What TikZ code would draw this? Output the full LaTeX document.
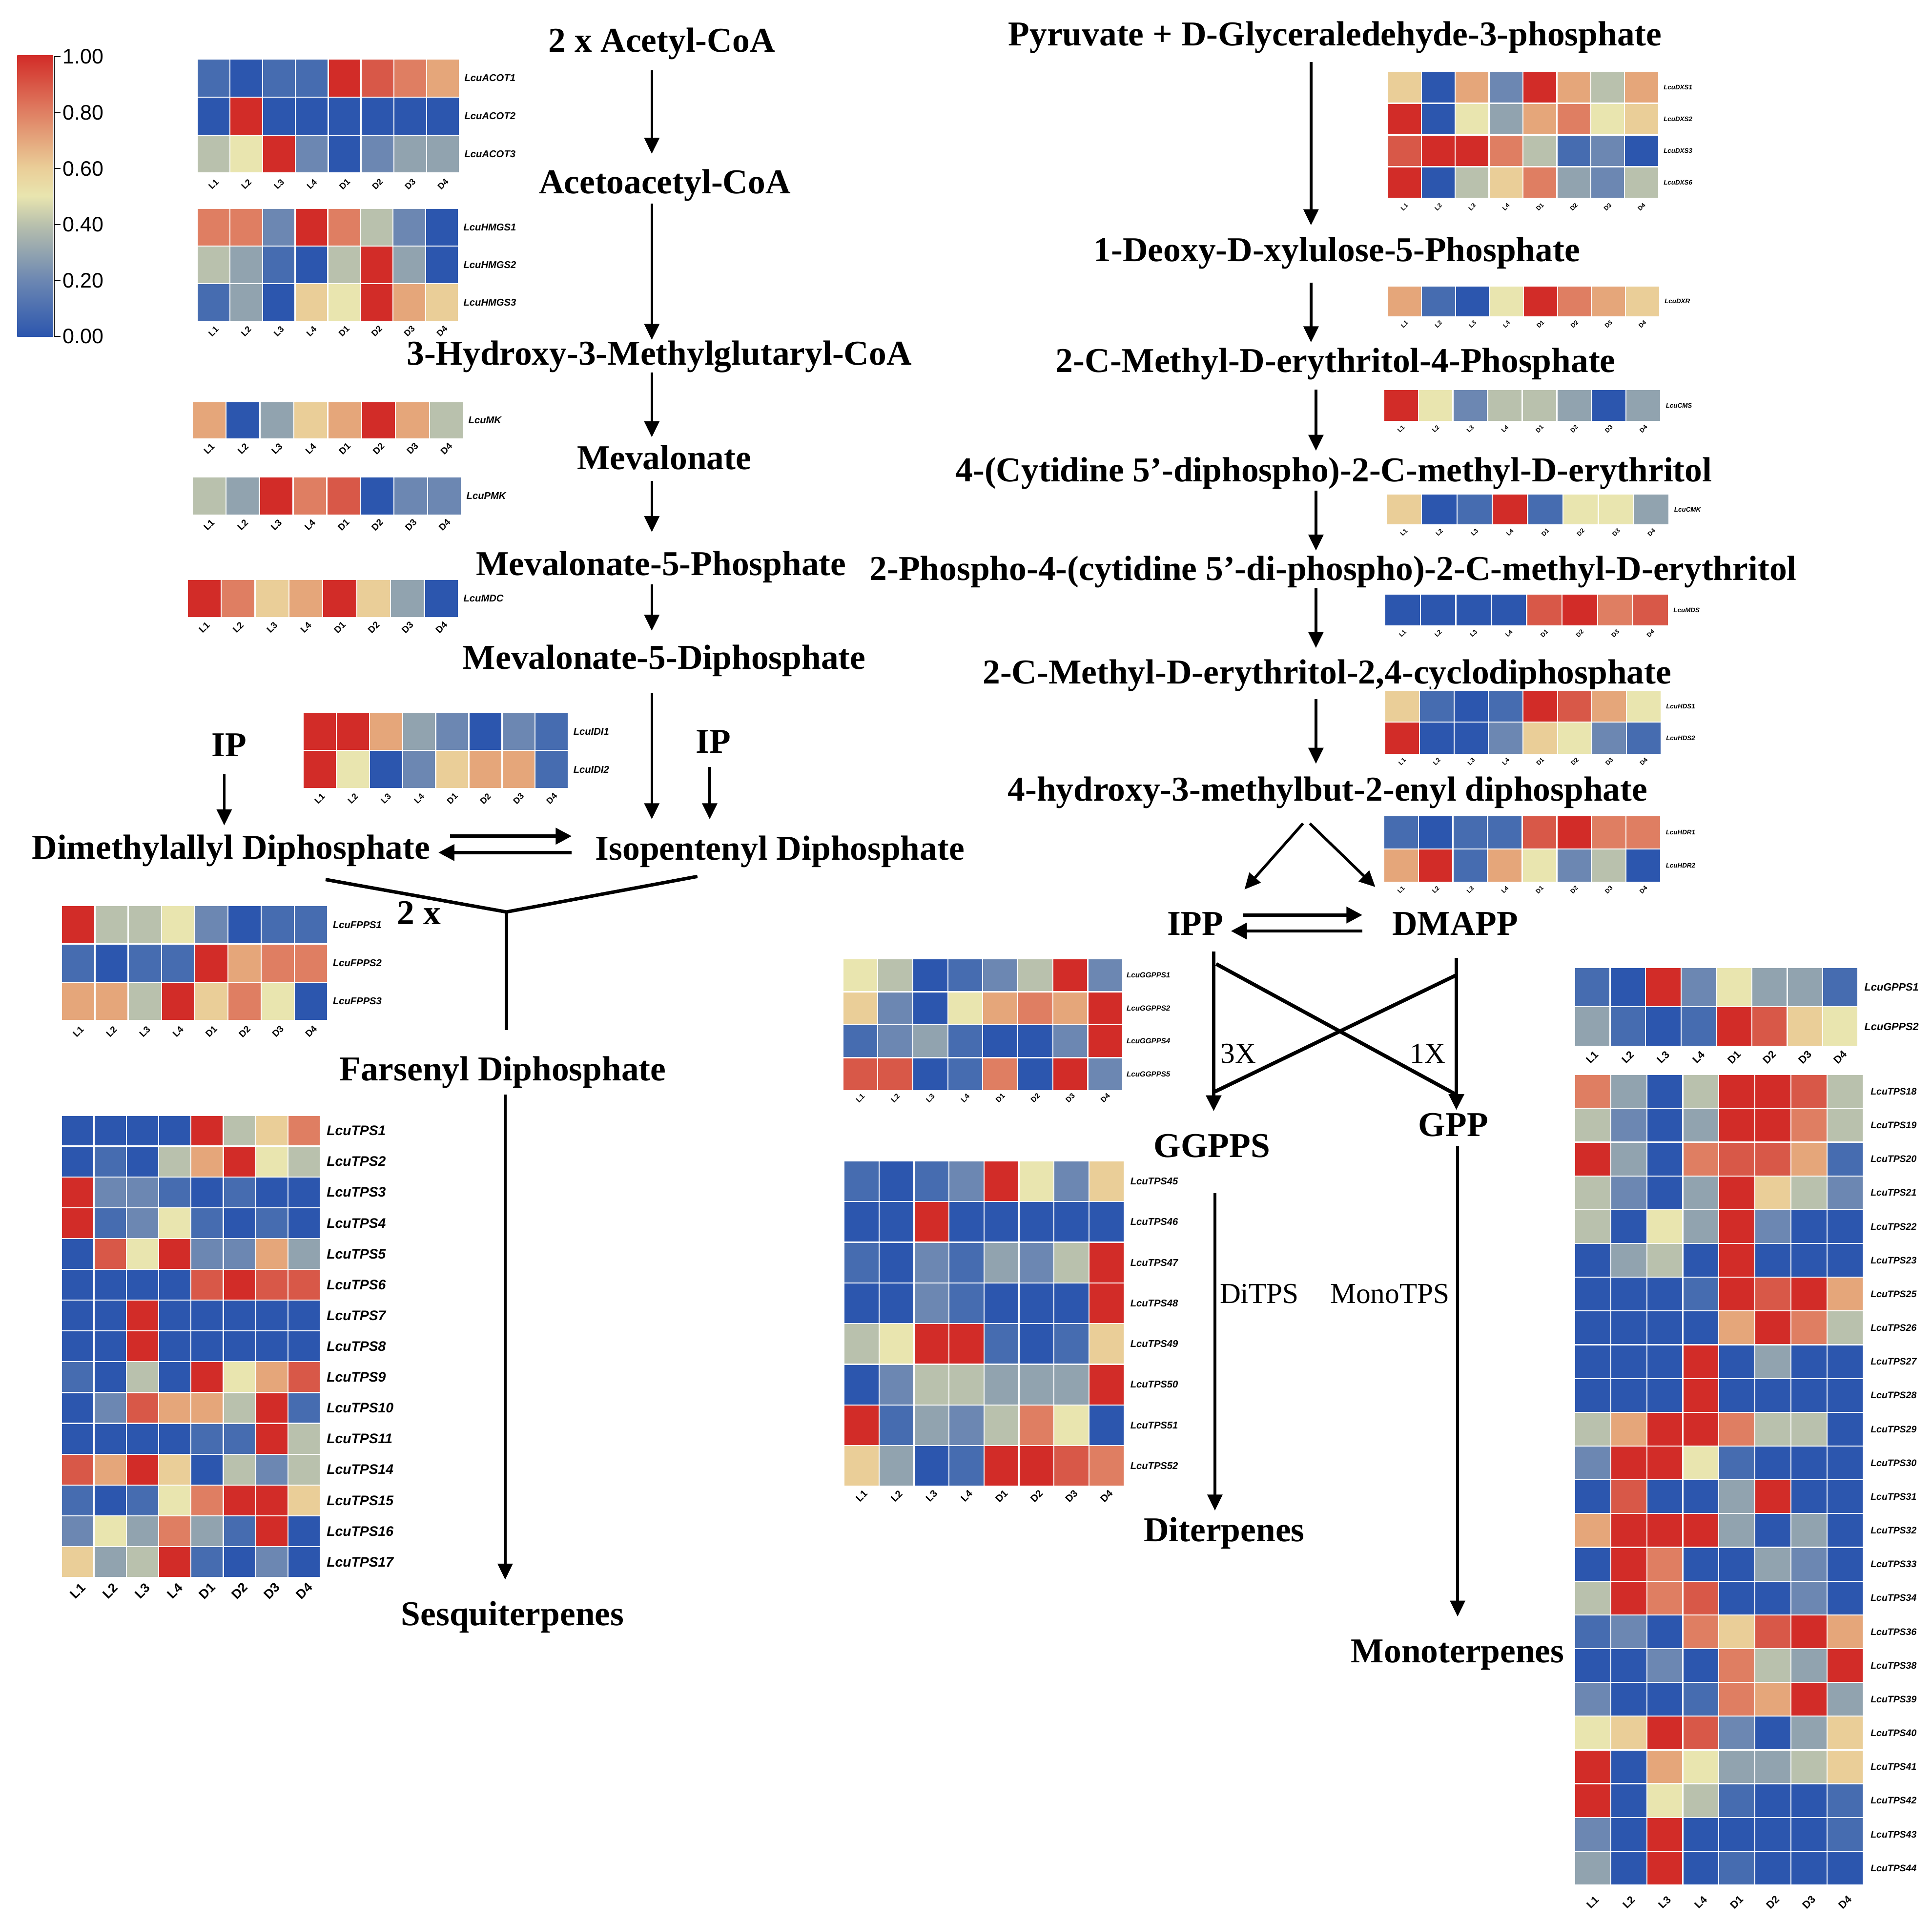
\documentclass[tikz,border=0pt]{standalone}
\usepackage{fontspec}
\setmainfont{Liberation Serif}
\setsansfont{Liberation Sans}
\usepackage{tikz}
\usetikzlibrary{arrows.meta,calc}

\definecolor{h0}{RGB}{44,86,174}
\definecolor{h1}{RGB}{70,108,176}
\definecolor{h2}{RGB}{108,135,178}
\definecolor{h3}{RGB}{145,163,175}
\definecolor{h4}{RGB}{185,193,173}
\definecolor{h5}{RGB}{233,229,175}
\definecolor{h6}{RGB}{234,206,152}
\definecolor{h7}{RGB}{229,166,122}
\definecolor{h8}{RGB}{223,126,98}
\definecolor{h9}{RGB}{216,88,72}
\definecolor{h10}{RGB}{210,44,40}
\pgfdeclareverticalshading{hmbar}{100bp}{color(0bp)=(h0); color(25bp)=(h0); color(35bp)=(h2); color(45bp)=(h4); color(50bp)=(h5); color(55bp)=(h6); color(65bp)=(h8); color(75bp)=(h10); color(100bp)=(h10)}

\tikzset{
  cellw/.store in=\cellw, cellh/.store in=\cellh,
  genesize/.store in=\genesize, sampsize/.store in=\sampsize,
  labgap/.store in=\labgap, sampgap/.store in=\sampgap,
  cellw=28, cellh=28, genesize=8, sampsize=7, labgap=4, sampgap=8,
  gene/.style={font=\sffamily\bfseries\itshape\fontsize{\genesize}{\genesize}\selectfont, inner sep=0pt, anchor=west},
  samp/.style={font=\sffamily\bfseries\fontsize{\sampsize}{\sampsize}\selectfont, rotate=45, inner sep=0pt},
  met/.style={font=\fontsize{28.3}{30}\selectfont\bfseries, inner sep=0pt, anchor=base, text height=19pt, text depth=6pt},
  note/.style={font=\fontsize{23.5}{26}\selectfont, inner sep=0pt},
  arr/.style={line width=2.2pt, -{Triangle[length=13pt,width=12pt]}},
  eqarr/.style={line width=2.6pt, -{Triangle[length=13pt,width=13pt]}},
  bond/.style={line width=2.8pt},
}

% #1 options, #2 top left corner, #3 gene/{values 0..10}
\newcommand{\drawheatmap}[3][]{%
  \begin{scope}[shift={#2},#1]
    \foreach \gene/\vals [count=\r] in {#3}{%
      \foreach \v [count=\c] in \vals
        \filldraw[fill=h\v, draw=white, line width=0.9pt] ({(\c-1)*\cellw},{(\r-1)*\cellh}) rectangle ++(\cellw,\cellh);
      \node[gene] at ({8*\cellw+\labgap},{(\r-0.5)*\cellh}) {\gene};
      \global\let\nrows\r
    }
    \foreach \s [count=\c] in {L1,L2,L3,L4,D1,D2,D3,D4}
      \node[samp] at ({(\c-0.5)*\cellw},{\nrows*\cellh+\sampgap}) {\s};
  \end{scope}}

\begin{document}
\begin{tikzpicture}[x=1pt,y=-1pt]
\useasboundingbox[fill=white] (0,0) rectangle (1568,1561);

% colour key
\shade[shading=hmbar] (14,45) rectangle (43,273);
\draw[line width=0.8pt] (44,46) -- (44,273);
\foreach \lab [count=\i from 0] in {1.00,0.80,0.60,0.40,0.20,0.00}
  \draw[line width=0.8pt] (44,{46+45.4*\i}) -- ++(5,0) node[right=1.5pt, inner sep=0pt, font=\sffamily\fontsize{17}{17}\selectfont] {\lab};

% mevalonate pathway
\node[met] (acetyl) at (537,42) {2 x Acetyl-CoA};
\node[met] (acacoa) at (539.5,157) {Acetoacetyl-CoA};
\node[met] (hmgcoa) at (535,296) {3-Hydroxy-3-Methylglutaryl-CoA};
\node[met] (mva) at (539,381) {Mevalonate};
\node[met] (mvap) at (536.5,467) {Mevalonate-5-Phosphate};
\node[met] (mvapp) at (539,543) {Mevalonate-5-Diphosphate};
\node[met] (ipl) at (186,614) {IP};
\node[met] (ipr) at (579,611) {IP};
\node[met] (dma) at (187.5,697) {Dimethylallyl Diphosphate};
\node[met] (iso) at (633,698) {Isopentenyl Diphosphate};
\node[met] (twox) at (340,750) {2 x};
\node[met] (fpp) at (408,877) {Farsenyl Diphosphate};
\node[met] (sesq) at (416,1319) {Sesquiterpenes};

\coordinate (mvax) at (529,0);
\draw[arr, shorten <=9pt, shorten >=13pt] (acetyl.south -| mvax) -- (acacoa.north -| mvax);
\draw[arr, shorten <=2pt, shorten >=1pt] (acacoa.south -| mvax) -- (hmgcoa.north -| mvax);
\draw[arr, shorten >=7pt] (hmgcoa.south -| mvax) -- (mva.north -| mvax);
\draw[arr, shorten <=3pt, shorten >=16pt] (mva.south -| mvax) -- (mvap.north -| mvax);
\draw[arr, shorten <=1pt, shorten >=12pt] (mvap.south -| mvax) -- (mvapp.north -| mvax);
\draw[arr, shorten <=13pt, shorten >=14pt] (mvapp.south -| mvax) -- (iso.north -| mvax);
\draw[arr, shorten <=8pt, shorten >=8pt] ([xshift=-4pt]ipl.south) -- ([xshift=-4pt]ipl.south |- dma.north);
\draw[arr, shorten <=5pt, shorten >=14pt] ([xshift=-3pt]ipr.south) -- ([xshift=-3pt]ipr.south |- iso.north);
\draw[eqarr, shorten <=16pt, shorten >=19pt] ([yshift=12pt]dma.east) -- ([yshift=12pt]dma.east -| iso.west);
\draw[eqarr, shorten <=19pt, shorten >=6.5pt] ([yshift=-1.3pt]dma.east -| iso.west) -- ([yshift=-1.3pt]dma.east);

\coordinate (fppjoin) at (411,740);
\draw[bond] ($(dma.south east)+(-85,10.5)$) -- (fppjoin) -- ($(iso.south west)+(83,7)$);
\draw[bond, shorten >=22pt] (fppjoin) -- (fppjoin |- fpp.north);
\draw[arr, shorten <=5pt, shorten >=18pt] ([xshift=2pt]fpp.south) -- ([xshift=2pt]fpp.south |- sesq.north);

% MEP pathway
\node[met] (pyr) at (1083.5,37) {Pyruvate + D-Glyceraledehyde-3-phosphate};
\node[met] (dxp) at (1085,212) {1-Deoxy-D-xylulose-5-Phosphate};
\node[met] (mep) at (1084,302) {2-C-Methyl-D-erythritol-4-Phosphate};
\node[met] (cdpme) at (1082.5,391) {4-(Cytidine 5’-diphospho)-2-C-methyl-D-erythritol};
\node[met] (cdpmep) at (1082,471) {2-Phospho-4-(cytidine 5’-di-phospho)-2-C-methyl-D-erythritol};
\node[met] (mecpp) at (1077,555) {2-C-Methyl-D-erythritol-2,4-cyclodiphosphate};
\node[met] (hmbpp) at (1077.5,650) {4-hydroxy-3-methylbut-2-enyl diphosphate};
\node[met] (ipp) at (970,759) {IPP};
\node[met] (dmapp) at (1181,759) {DMAPP};
\node[met] (ggpp) at (983.5,939) {GGPPS};
\node[met] (gpp) at (1179.5,922) {GPP};
\node[met] (diterp) at (993.5,1251) {Diterpenes};
\node[met] (monoterp) at (1183,1349) {Monoterpenes};
\node[note] (n3x) at (1005,855) {3X};
\node[note] (n1x) at (1158.6,855) {1X};
\node[note] (ditps) at (1022,1050) {DiTPS};
\node[note] (monotps) at (1128,1050) {MonoTPS};

\coordinate (mepa) at (1064,0);
\coordinate (mepb) at (1068,0);
\draw[arr, shorten <=7pt, shorten >=10pt] (pyr.south -| mepa) -- (dxp.north -| mepa);
\draw[arr, shorten <=11pt, shorten >=5pt] (dxp.south -| mepa) -- (mep.north -| mepa);
\draw[arr, shorten <=8pt, shorten >=6pt] (mep.south -| mepb) -- (cdpme.north -| mepb);
\draw[arr, shorten <=1pt, shorten >=5pt] (cdpme.south -| mepb) -- (cdpmep.north -| mepb);
\draw[arr, shorten >=10pt] (cdpmep.south -| mepb) -- (mecpp.north -| mepb);
\draw[arr, shorten <=6pt, shorten >=11pt] (mecpp.south -| mepb) -- (hmbpp.north -| mepb);
\draw[arr] ($(hmbpp.south)+(-20,12)$) -- ($(ipp.north east)+(17,-18)$);
\draw[arr] ($(hmbpp.south)+(-14.5,12)$) -- ($(dmapp.north west)+(-13.5,-20)$);
\draw[eqarr, shorten <=16pt, shorten >=24pt] ([yshift=10pt]ipp.east) -- ([yshift=10pt]dmapp.west);
\draw[eqarr, shorten <=24pt, shorten >=6pt] ([yshift=-3pt]dmapp.west) -- ([yshift=-3pt]ipp.east);

\draw[arr, line width=3pt, shorten <=7pt, shorten >=18pt] ([xshift=15pt]ipp.south) -- ([xshift=15pt]ipp.south |- ggpp.north);
\draw[arr, line width=3pt, shorten <=12pt, shorten >=2pt] ([xshift=1pt]dmapp.south) -- ([xshift=1pt]dmapp.south |- gpp.north);
\draw[line width=3pt] ($(ipp.south)+(17,17)$) -- ($(gpp.north)+(1.5,-15)$);
\draw[line width=3pt] ($(dmapp.south)+(1,26)$) -- ($(ggpp.north)+(2.5,-34)$);
\draw[arr, shorten <=23pt, shorten >=6pt] ([xshift=2.5pt]ggpp.south) -- ([xshift=2.5pt]ggpp.south |- diterp.north);
\draw[arr, shorten <=2pt, shorten >=18pt] ([xshift=3.5pt]gpp.south) -- ([xshift=3.5pt]gpp.south |- monoterp.north);

% heatmaps
\drawheatmap[cellw=26.6, cellh=30.8, sampgap=9]{(160,48)}{
  LcuACOT1/{1,0,1,1,10,9,8,7}, LcuACOT2/{0,10,0,0,0,0,0,0}, LcuACOT3/{4,5,10,2,0,2,3,3}}
\drawheatmap[cellw=26.5, cellh=30.6]{(160,169)}{
  LcuHMGS1/{8,8,2,10,8,4,2,0}, LcuHMGS2/{4,3,1,0,4,10,3,0}, LcuHMGS3/{1,3,0,6,5,10,7,6}}
\drawheatmap[cellw=27.5, cellh=30, sampsize=7.5]{(156,326)}{LcuMK/{7,0,3,6,7,10,7,4}}
\drawheatmap[cellw=27.3, cellh=31, sampsize=7.5]{(156,387)}{LcuPMK/{4,3,10,8,9,0,2,2}}
\drawheatmap[cellw=27.5, cellh=31, sampsize=7.5]{(152,470)}{LcuMDC/{10,8,6,7,10,6,3,0}}
\drawheatmap[cellw=26.9, cellh=31]{(246,578)}{
  LcuIDI1/{10,10,7,3,2,0,2,1}, LcuIDI2/{10,5,0,2,6,7,7,1}}
\drawheatmap[cellw=27, cellh=31, sampsize=7.5, sampgap=9]{(50,735)}{
  LcuFPPS1/{10,4,4,5,2,0,1,1}, LcuFPPS2/{1,0,1,1,10,7,8,8}, LcuFPPS3/{7,7,4,10,6,8,5,0}}
\drawheatmap[cellw=26.25, cellh=25, genesize=11.2, sampsize=10.5, sampgap=11, labgap=5]{(50,905)}{
  LcuTPS1/{0,0,0,0,10,4,6,8}, LcuTPS2/{0,1,0,4,7,10,5,4}, LcuTPS3/{10,2,2,1,0,1,0,0},
  LcuTPS4/{10,1,2,5,1,0,1,0}, LcuTPS5/{0,9,5,10,2,2,7,3}, LcuTPS6/{0,0,0,0,9,10,9,9},
  LcuTPS7/{0,0,10,0,0,0,0,0}, LcuTPS8/{0,0,10,0,0,0,0,0}, LcuTPS9/{1,0,4,0,10,5,7,9},
  LcuTPS10/{0,2,9,7,7,4,10,1}, LcuTPS11/{0,0,0,0,1,1,10,4}, LcuTPS14/{9,7,10,6,0,4,2,4},
  LcuTPS15/{1,0,1,5,8,10,10,6}, LcuTPS16/{2,5,3,8,3,1,10,0}, LcuTPS17/{6,3,4,10,1,0,2,0}}

\drawheatmap[cellw=27.5, cellh=25.75, genesize=5.3, sampsize=5, sampgap=7]{(1126,58)}{
  LcuDXS1/{6,0,7,2,10,7,4,7}, LcuDXS2/{10,0,5,3,7,8,5,6},
  LcuDXS3/{9,10,10,8,4,1,2,0}, LcuDXS6/{10,0,4,6,8,3,2,4}}
\drawheatmap[cellw=27.6, cellh=25, genesize=5.3, sampsize=5, sampgap=6]{(1126,232)}{LcuDXR/{7,1,0,5,10,8,7,6}}
\drawheatmap[cellw=28.1, cellh=26, genesize=5.3, sampsize=5, sampgap=6]{(1123,316)}{LcuCMS/{10,5,2,4,4,3,0,3}}
\drawheatmap[cellw=28.7, cellh=25, genesize=5.3, sampsize=5, sampgap=6]{(1125,401)}{LcuCMK/{6,0,1,10,1,5,5,3}}
\drawheatmap[cellw=28.75, cellh=26, genesize=5.3, sampsize=5, sampgap=6]{(1124,482)}{LcuMDS/{0,0,0,0,9,10,8,9}}
\drawheatmap[cellw=28, cellh=26, genesize=5.3, sampsize=5, sampgap=6]{(1124,560)}{
  LcuHDS1/{6,1,0,1,10,9,7,5}, LcuHDS2/{10,0,0,2,6,5,2,1}}
\drawheatmap[cellw=28.1, cellh=27, genesize=5.3, sampsize=5, sampgap=6]{(1123,662)}{
  LcuHDR1/{1,0,1,1,9,10,8,8}, LcuHDR2/{7,10,1,7,5,2,4,0}}

\drawheatmap[cellw=28.4, cellh=26.75, genesize=6, sampsize=6, sampgap=6, labgap=3]{(684,778)}{
  LcuGGPPS1/{5,4,0,1,2,4,10,2}, LcuGGPPS2/{6,2,0,5,7,8,7,10},
  LcuGGPPS4/{1,2,3,1,0,0,2,10}, LcuGGPPS5/{9,9,0,1,8,0,10,2}}
\drawheatmap[cellw=28.4, cellh=33, genesize=8, sampsize=8, sampgap=8, labgap=5]{(685,942)}{
  LcuTPS45/{1,0,1,2,10,5,2,6}, LcuTPS46/{0,0,10,0,0,0,0,0}, LcuTPS47/{1,0,2,1,3,2,4,10},
  LcuTPS48/{0,0,2,1,0,0,0,10}, LcuTPS49/{4,5,10,10,1,0,1,6}, LcuTPS50/{0,2,4,4,3,3,3,10},
  LcuTPS51/{10,1,3,2,4,8,5,0}, LcuTPS52/{6,3,0,1,10,10,9,8}}
\drawheatmap[cellw=28.75, cellh=32, genesize=8.6, sampsize=8.5, sampgap=9, labgap=5]{(1278,785)}{
  LcuGPPS1/{1,0,10,2,5,3,3,1}, LcuGPPS2/{3,1,0,1,10,9,6,5}}
\drawheatmap[cellw=29.25, cellh=27.4, genesize=7.7, sampsize=8.5, sampgap=14, labgap=6]{(1278,872)}{
  LcuTPS18/{8,3,0,4,10,10,9,4}, LcuTPS19/{4,2,0,3,10,10,8,4}, LcuTPS20/{10,3,0,8,9,9,7,1},
  LcuTPS21/{4,2,0,3,10,6,4,2}, LcuTPS22/{4,0,5,3,10,2,0,0}, LcuTPS23/{0,3,4,0,10,0,0,0},
  LcuTPS25/{0,0,0,1,10,9,10,7}, LcuTPS26/{0,0,0,0,7,10,8,4}, LcuTPS27/{0,0,0,10,0,3,0,0},
  LcuTPS28/{0,0,0,10,0,0,0,0}, LcuTPS29/{4,7,10,10,8,4,4,0}, LcuTPS30/{2,10,10,5,1,0,0,0},
  LcuTPS31/{0,9,0,0,3,10,0,0}, LcuTPS32/{7,10,10,10,3,0,3,0}, LcuTPS33/{0,10,8,0,0,3,2,0},
  LcuTPS34/{4,10,8,9,0,0,2,0}, LcuTPS36/{1,2,0,8,6,9,10,7}, LcuTPS38/{0,0,2,0,8,4,3,10},
  LcuTPS39/{2,0,0,1,8,7,10,3}, LcuTPS40/{5,6,10,9,2,0,3,6}, LcuTPS41/{10,0,7,5,3,3,4,6},
  LcuTPS42/{10,0,5,4,1,0,0,1}, LcuTPS43/{2,0,10,0,0,0,0,1}, LcuTPS44/{3,0,10,0,1,0,0,0}}
\end{tikzpicture}
\end{document}
